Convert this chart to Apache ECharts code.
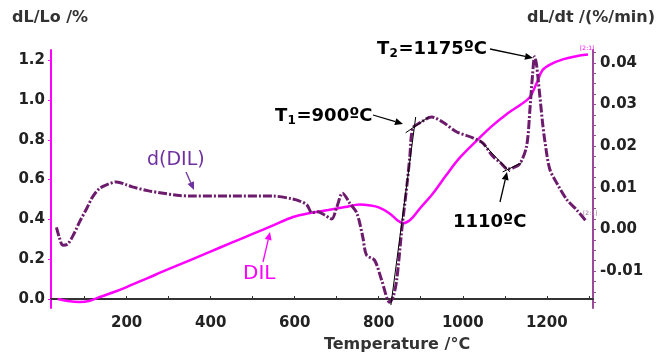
<!DOCTYPE html>
<html>
<head>
<meta charset="utf-8">
<script src="https://cdn.jsdelivr.net/npm/echarts@6/dist/echarts.min.js"></script>
<style>html,body{margin:0;padding:0;background:#fff}#c{width:659px;height:358px}</style>
</head>
<body>
<div id="c"></div>
<script>
// DIL curve (left axis, dL/Lo %)
const dilTemp = [36,60,88,110,136,170,200,250,295,350,398,450,500,550,596,636,680,720,755,780,800,826,845,858,870,881,900,929,960,993,1040,1070,1105,1140,1160,1176,1190,1210,1240,1270,1298];
const dilVal  = [0.0,-0.01,-0.015,-0.01,0.01,0.035,0.06,0.105,0.146,0.194,0.237,0.283,0.327,0.371,0.412,0.432,0.447,0.462,0.475,0.47,0.46,0.43,0.395,0.38,0.39,0.41,0.46,0.53,0.62,0.71,0.81,0.87,0.93,0.98,1.015,1.085,1.15,1.18,1.205,1.22,1.228];
// d(DIL) curve (right axis, dL/dt %/min)
const ddilTemp = [33,40,48,60,75,88,105,119,135,152,176,200,214,250,279,320,357,452,548,595,612,629,641,655,670,688,700,714,731,748,762,771,790,807,826,835,843,855,867,874,881,898,926,952,986,1024,1048,1071,1090,1107,1120,1136,1152,1160,1166,1171,1175,1179,1190,1195,1207,1224,1248,1271,1295];
const ddilVal  = [0.0005,-0.002,-0.0038,-0.0035,-0.001,0.0018,0.005,0.0078,0.0098,0.0107,0.0114,0.0107,0.0102,0.0093,0.0088,0.0082,0.008,0.008,0.008,0.0073,0.0068,0.0059,0.0040,0.0042,0.0035,0.0025,0.0053,0.0087,0.0063,0.0039,-0.0018,-0.0062,-0.0074,-0.0122,-0.0175,-0.016,-0.012,0.0,0.0105,0.0174,0.0243,0.0256,0.027,0.0258,0.0234,0.022,0.0207,0.0176,0.016,0.0145,0.0148,0.0158,0.02,0.029,0.037,0.0415,0.040,0.0365,0.0256,0.0215,0.0145,0.0111,0.0071,0.0047,0.0018];
// tick labels
const xTicks = [200,400,600,800,1000,1200];
const xMinorTicks = [100,200,300,400,500,600,700,800,900,1000,1100,1200,1300];
const leftTicks = [0,0.2,0.4,0.6,0.8,1.0,1.2];
const rightTicks = [-0.01,0,0.01,0.02,0.03,0.04];
const rightMinor = [-0.0175,-0.015,-0.0125,-0.01,-0.0075,-0.005,-0.0025,0,0.0025,0.005,0.0075,0.01,0.0125,0.015,0.0175,0.02,0.0225,0.025,0.0275,0.03,0.0325,0.035,0.0375,0.04,0.0425];
// tangent construction lines (data coords, right axis)
const tangents = [
  [[829,-0.0182],[888,0.027]],
  [[864,0.0232],[919,0.027]],
  [[1040,0.0215],[1112,0.0138]],
  [[1095,0.0138],[1140,0.016]]
];

const MAG = '#ff00ff', PUR = '#6d1b6d', AXP = '#9b4a9b';
const dil = dilTemp.map((t,i)=>[t,dilVal[i]]);
const ddil = ddilTemp.map((t,i)=>[t,ddilVal[i]]);

function arrow(x1,y1,x2,y2,color,w){
  const ang = Math.atan2(y2-y1,x2-x1), L=8, W=3.5;
  const bx = x2 - L*Math.cos(ang), by = y2 - L*Math.sin(ang);
  const px = -Math.sin(ang)*W, py = Math.cos(ang)*W;
  return [
    {type:'line',shape:{x1:x1,y1:y1,x2:bx,y2:by},style:{stroke:color,lineWidth:w||1.2},z:100},
    {type:'polygon',shape:{points:[[x2,y2],[bx+px,by+py],[bx-px,by-py]]},style:{fill:color},z:100}
  ];
}
const txt = (x,y,text,font,color,align)=>({type:'text',x:x,y:y,style:{text:text,font:font,fill:color,textAlign:align||'left',textVerticalAlign:'middle'},z:100});
const BF = 'bold 18px "DejaVu Sans"', SF = 'bold 12px "DejaVu Sans"';
const subTxt = (x,y,main,sub,rest)=>[
  txt(x,y,main,BF,'#000'),
  txt(x+12.5,y+5,sub,SF,'#000'),
  txt(x+21.5,y,rest,BF,'#000')
];

const chart = echarts.init(document.getElementById('c'),null,{renderer:'canvas'});
chart.setOption({
  animation:false,
  grid:{left:51,right:66,top:50,bottom:50},
  xAxis:{type:'value',min:20,max:1310,
    axisLine:{lineStyle:{color:'#333',width:2}},
    axisTick:{inside:true,length:3,customValues:xMinorTicks,lineStyle:{color:'#333'}},
    axisLabel:{customValues:xTicks,formatter:v=>String(v),color:'#222',fontFamily:'DejaVu Sans',fontWeight:'bold',fontSize:15,margin:8},
    splitLine:{show:false}},
  yAxis:[
    {type:'value',position:'left',min:-0.0452,max:1.251,
      axisLine:{show:true,lineStyle:{color:MAG,width:2}},
      axisTick:{show:true,length:3,customValues:leftTicks,lineStyle:{color:MAG}},
      axisLabel:{customValues:leftTicks,formatter:v=>v.toFixed(1),color:'#222',fontFamily:'DejaVu Sans',fontWeight:'bold',fontSize:15,margin:6},
      splitLine:{show:false}},
    {type:'value',position:'right',min:-0.0189,max:0.0431,
      axisLine:{show:true,lineStyle:{color:AXP,width:2}},
      axisTick:{show:true,length:3,customValues:rightMinor,lineStyle:{color:AXP}},
      axisLabel:{customValues:rightTicks,formatter:v=>v.toFixed(2),color:'#222',fontFamily:'DejaVu Sans',fontWeight:'bold',fontSize:15,margin:7},
      splitLine:{show:false}}
  ],
  series:[
    {name:'DIL',type:'line',yAxisIndex:0,data:dil,smooth:0.35,showSymbol:false,
      lineStyle:{color:MAG,width:2.5},z:2},
    {name:'d(DIL)',type:'line',yAxisIndex:1,data:ddil,smooth:0.3,showSymbol:false,
      lineStyle:{color:PUR,width:3,type:[9,2,2,2]},z:3,
      markLine:{silent:true,symbol:'none',animation:false,label:{show:false},
        lineStyle:{color:'#000',width:1,type:'solid'},
        data:tangents.map(s=>[{coord:s[0]},{coord:s[1]}])}}
  ],
  graphic:[
    txt(12,18,'dL/Lo /%','bold 16px "DejaVu Sans"','#333'),
    txt(655,18,'dL/dt /(%/min)','bold 16px "DejaVu Sans"','#333','right'),
    txt(397,345,'Temperature /°C','bold 16px "DejaVu Sans"','#333','center'),
    ...subTxt(275,116,'T','1','=900ºC'),
    ...subTxt(377,49,'T','2','=1175ºC'),
    txt(453,222,'1110ºC','bold 18px "DejaVu Sans"','#000'),
    txt(147,160,'d(DIL)','19px "DejaVu Sans"','#7030a0'),
    txt(243,274,'DIL','20px "DejaVu Sans"',MAG),
    txt(580,48,'[2:1]','6px "DejaVu Sans"',MAG),
    txt(583,213,'[2:1]','6px "DejaVu Sans"','#9b6a9b'),
    ...arrow(373,115,403,124,'#000',1.3),
    ...arrow(490,49,533,58,'#000',1.3),
    ...arrow(500,202,507,172,'#000',1.3),
    ...arrow(186,172,194,190,'#7030a0',1.3),
    ...arrow(263,262,270,232,MAG,1.3)
  ]
});
</script>
</body>
</html>
